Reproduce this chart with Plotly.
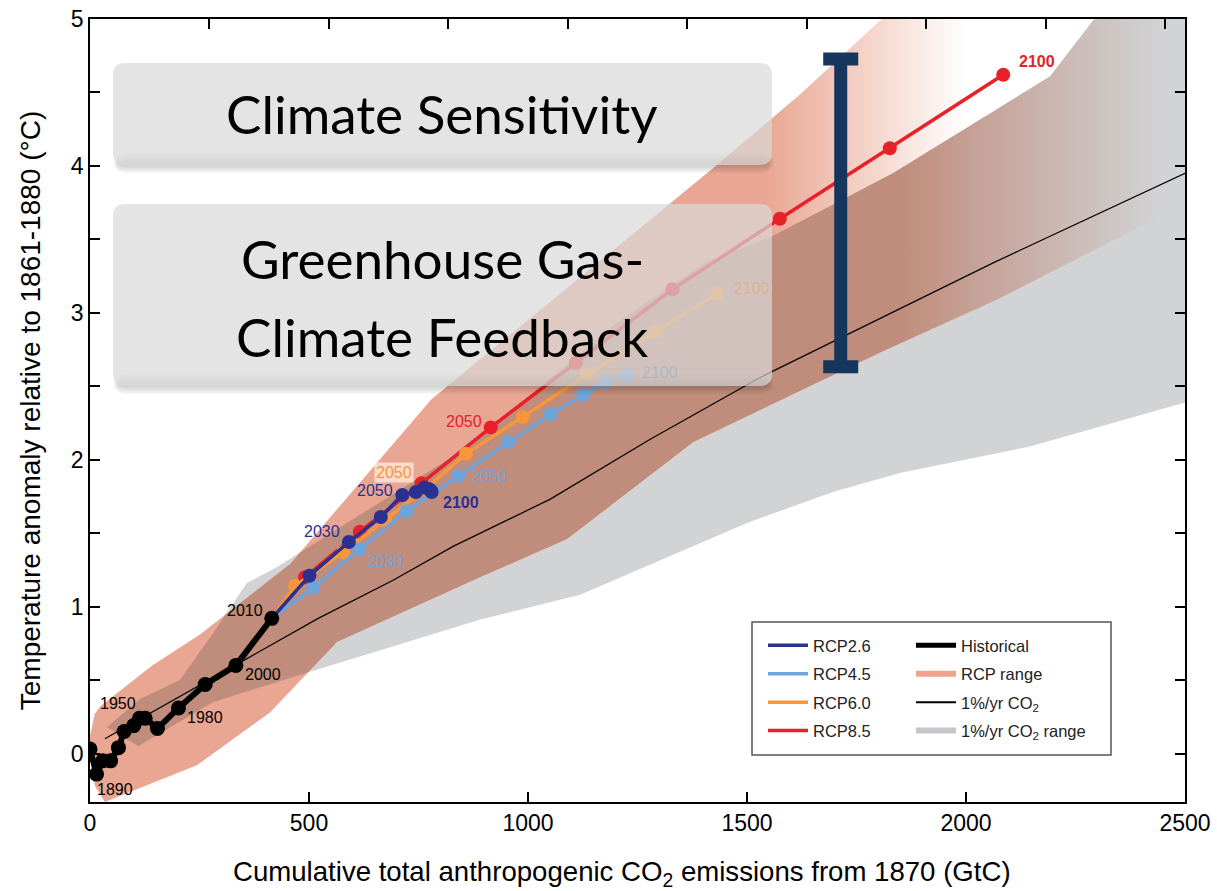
import numpy as np
import plotly.graph_objects as go

# ---------------- data ----------------
# Historical decadal points
hist_x = [0, 15, 29, 47, 65, 78, 100, 113, 126, 154, 202, 263, 333, 415]
hist_y = [0.03, -0.14, -0.05, -0.05, 0.04, 0.15, 0.19, 0.24, 0.24, 0.17, 0.31, 0.47, 0.60, 0.92]

# RCP scenarios, 2010-2100 by decade
rcp_years = [2010, 2020, 2030, 2040, 2050, 2060, 2070, 2080, 2090, 2100]
rcp26_x = [415, 501, 591, 664, 713, 744, 763, 774, 778, 780]
rcp26_y = [0.92, 1.21, 1.44, 1.61, 1.76, 1.78, 1.81, 1.80, 1.79, 1.78]
rcp45_x = [415, 510, 615, 723, 841, 955, 1052, 1126, 1177, 1225]
rcp45_y = [0.92, 1.13, 1.39, 1.65, 1.89, 2.12, 2.31, 2.44, 2.53, 2.57]
rcp60_x = [415, 468, 578, 674, 765, 858, 988, 1134, 1290, 1432]
rcp60_y = [0.92, 1.14, 1.37, 1.59, 1.80, 2.04, 2.29, 2.58, 2.87, 3.13]
rcp85_x = [415, 491, 616, 757, 915, 1109, 1330, 1575, 1826, 2085]
rcp85_y = [0.92, 1.20, 1.51, 1.84, 2.22, 2.66, 3.16, 3.64, 4.12, 4.62]

# 1%/yr CO2 multi-model mean
pct_x = [34, 521, 692, 829, 1050, 1279, 1530, 2062, 2500]
pct_y = [0.10, 0.92, 1.18, 1.41, 1.73, 2.14, 2.56, 3.34, 3.95]

# RCP range (upper / lower envelope)
rcp_up_x = [0, 11, 23, 142, 251, 457, 779, 1425, 1626, 1804, 2078, 2500]
rcp_up_y = [0.12, 0.27, 0.32, 0.60, 0.81, 1.29, 2.41, 3.99, 4.50, 4.99, 5.67, 6.49]
rcp_lo_x = [0, 11, 34, 244, 411, 564, 890, 1089, 1377, 1804, 2071, 2413, 2500]
rcp_lo_y = [-0.02, -0.22, -0.33, -0.08, 0.28, 0.76, 1.20, 1.46, 2.12, 2.73, 3.09, 3.61, 3.77]

# 1%/yr CO2 range (upper / lower envelope)
pct_up_x = [39, 114, 205, 281, 358, 427, 822, 1005, 1210, 1409, 1557, 1833, 2078, 2192, 2290, 2500]
pct_up_y = [0.18, 0.37, 0.50, 0.82, 1.16, 1.27, 2.01, 2.44, 2.95, 3.35, 3.52, 3.95, 4.40, 4.61, 4.99, 5.54]
pct_lo_x = [39, 110, 281, 495, 890, 1119, 1500, 1696, 1849, 2146, 2500]
pct_lo_y = [0.18, 0.05, 0.35, 0.55, 0.91, 1.08, 1.57, 1.78, 1.91, 2.09, 2.39]

# Climate sensitivity spread bar
ecs_x = 1714
ecs_low, ecs_high = 2.633, 4.727

# Upper axis: GtCO2 tick marks, expressed in GtC
gtco2_ticks = [1000, 2000, 3000, 4000, 5000, 6000, 7000, 8000, 9000]
GTC_PER_GTCO2 = 12.0 / 44.0

x_ticks = [0, 500, 1000, 1500, 2000, 2500]
y_ticks = [0, 0.5, 1, 1.5, 2, 2.5, 3, 3.5, 4, 4.5, 5]
y_ticktext = ["0", "", "1", "", "2", "", "3", "", "4", "", "5"]

# ---------------- styling ----------------
C26, C45, C60, C85 = "#2b3190", "#6fa3dc", "#f7963b", "#e8202a"
SALMON = "rgb(233,166,146)"
BROWN = "rgb(192,140,124)"
GREY = "#d1d3d5"
NAVY = "#17365d"
SANS = "Liberation Sans, Arial, sans-serif"

W, H = 1217, 891
ML, MR, MT, MB = 90, 32, 19, 89
PW, PH = W - ML - MR, H - MT - MB


def pxx(p):
    return (p - ML) / PW


def pxy(p):
    return (H - MB - p) / PH


def band(ux, uy, lx, ly):
    return list(ux) + list(lx)[::-1], list(uy) + list(ly)[::-1]


fig = go.Figure()

# grey 1%/yr range
gx, gy = band(pct_up_x, pct_up_y, pct_lo_x, pct_lo_y)
fig.add_trace(go.Scatter(x=gx, y=gy, fill="toself", fillcolor=GREY, mode="none",
                         hoverinfo="skip", showlegend=False))

# salmon RCP range, fading out towards high emissions
sx, sy = band(rcp_up_x, rcp_up_y, rcp_lo_x, rcp_lo_y)
fig.add_trace(go.Scatter(
    x=sx, y=sy, fill="toself", mode="none", hoverinfo="skip", showlegend=False,
    fillgradient=dict(type="horizontal", start=0, stop=2000,
                      colorscale=[[0, SALMON], [0.77, SALMON], [1, "rgba(233,166,146,0)"]])))

# overlap of both ranges (darker tone)
lo = max(rcp_up_x[0], pct_up_x[0])
hi = min(rcp_up_x[-1], pct_up_x[-1])
grid = np.union1d(np.linspace(lo, hi, 900),
                  [v for v in rcp_up_x + rcp_lo_x + pct_up_x + pct_lo_x if lo <= v <= hi])
ov_up = np.minimum(np.interp(grid, rcp_up_x, rcp_up_y), np.interp(grid, pct_up_x, pct_up_y))
ov_lo = np.maximum(np.interp(grid, rcp_lo_x, rcp_lo_y), np.interp(grid, pct_lo_x, pct_lo_y))
ov_up = np.where(ov_up > ov_lo, ov_up, ov_lo)
ox, oy = band(grid, ov_up, grid, ov_lo)
fig.add_trace(go.Scatter(
    x=ox, y=oy, fill="toself", mode="none", hoverinfo="skip", showlegend=False,
    fillgradient=dict(type="horizontal", start=0, stop=2450,
                      colorscale=[[0, BROWN], [0.75, BROWN], [1, "rgba(192,140,124,0)"]])))

# 1%/yr CO2 mean
fig.add_trace(go.Scatter(x=pct_x, y=pct_y, mode="lines", line=dict(color="black", width=1.2),
                         hoverinfo="skip", showlegend=False))

# scenarios
for xs, ys, col in [(rcp85_x, rcp85_y, C85), (rcp60_x, rcp60_y, C60),
                    (rcp45_x, rcp45_y, C45), (rcp26_x, rcp26_y, C26)]:
    fig.add_trace(go.Scatter(x=xs[1:], y=ys[1:], mode="markers", marker=dict(color=col, size=14),
                             hoverinfo="skip", showlegend=False))
    fig.add_trace(go.Scatter(x=xs, y=ys, mode="lines", line=dict(color=col, width=3.5),
                             hoverinfo="skip", showlegend=False))

# historical
fig.add_trace(go.Scatter(x=hist_x, y=hist_y, mode="lines+markers",
                         line=dict(color="black", width=6), marker=dict(color="black", size=15),
                         hoverinfo="skip", showlegend=False))

# climate sensitivity bar
fig.add_trace(go.Scatter(
    x=[ecs_x], y=[(ecs_low + ecs_high) / 2], mode="markers", marker=dict(opacity=0),
    error_y=dict(type="data", array=[(ecs_high - ecs_low) / 2], color=NAVY, thickness=13, width=17.5),
    hoverinfo="skip", showlegend=False))

# carrier for the upper GtCO2 axis
fig.add_trace(go.Scatter(x=[None], y=[None], xaxis="x2", showlegend=False, hoverinfo="skip"))

# legend entries
legend_left = [("RCP2.6", C26), ("RCP4.5", C45), ("RCP6.0", C60), ("RCP8.5", C85)]
for i, (nm, col) in enumerate(legend_left):
    fig.add_trace(go.Scatter(x=[None], y=[None], mode="lines", line=dict(color=col, width=3.5),
                             name=nm, legend="legend", legendgroup=f"l{i}"))
fig.add_trace(go.Scatter(x=[None], y=[None], mode="lines", line=dict(color="black", width=5),
                         name="Historical", legend="legend2", legendgroup="r0"))
fig.add_trace(go.Scatter(x=[None], y=[None], mode="none", fill="toself", fillcolor="#efa38b",
                         name="RCP range", legend="legend2", legendgroup="r1"))
fig.add_trace(go.Scatter(x=[None], y=[None], mode="lines", line=dict(color="black", width=2),
                         name="1%/yr CO<sub>2</sub>", legend="legend2", legendgroup="r2"))
fig.add_trace(go.Scatter(x=[None], y=[None], mode="none", fill="toself", fillcolor="#c5c7ca",
                         name="1%/yr CO<sub>2</sub> range", legend="legend2", legendgroup="r3"))

# ---------------- year labels ----------------
ann = []


def year_label(xs, ys, years, year, text, color, dx, dy, bold=False, opacity=1.0, bg=None):
    i = years.index(year)
    t = f"<b>{text}</b>" if bold else text
    a = dict(x=xs[i], y=ys[i], xref="x", yref="y", text=t, showarrow=False,
             xshift=dx, yshift=dy, opacity=opacity,
             font=dict(family=SANS, size=16, color=color))
    if bg:
        a.update(bgcolor=bg, borderpad=1)
    ann.append(a)


hist_years = [1870, 1890, 1900, 1910, 1920, 1925, 1930, 1950, 1955, 1960, 1980, 1990, 2000, 2010]
for yr, dx, dy in [(1890, 18, -15), (1950, -21, 15), (1980, 27, -10), (2000, 27, -9), (2010, -27, 8)]:
    year_label(hist_x, hist_y, hist_years, yr, str(yr), "black", dx, dy)

year_label(rcp26_x, rcp26_y, rcp_years, 2030, "2030", C26, -27, 10)
year_label(rcp26_x, rcp26_y, rcp_years, 2050, "2050", C26, -27, 4)
year_label(rcp26_x, rcp26_y, rcp_years, 2100, "2100", C26, 29, -10, bold=True)
year_label(rcp45_x, rcp45_y, rcp_years, 2030, "2030", C45, 26, -12)
year_label(rcp45_x, rcp45_y, rcp_years, 2050, "2050", C45, 31, -1)
year_label(rcp45_x, rcp45_y, rcp_years, 2100, "2100", C45, 33, 3, opacity=0.35)
year_label(rcp60_x, rcp60_y, rcp_years, 2050, "2050", C60, -31, 17, bg="rgba(255,236,226,0.75)")
year_label(rcp60_x, rcp60_y, rcp_years, 2100, "2100", C60, 35, 5, opacity=0.35)
year_label(rcp85_x, rcp85_y, rcp_years, 2050, "2050", C85, -27, 6)
year_label(rcp85_x, rcp85_y, rcp_years, 2100, "2100", C85, 34, 13, bold=True)

# ---------------- overlay boxes ----------------
shapes = []


def rrect_path(x0, y0, x1, y1, r):
    pts = [("M", x0 + r, y0), ("L", x1 - r, y0), ("Q", x1, y0, x1, y0 + r), ("L", x1, y1 - r),
           ("Q", x1, y1, x1 - r, y1), ("L", x0 + r, y1), ("Q", x0, y1, x0, y1 - r),
           ("L", x0, y0 + r), ("Q", x0, y0, x0 + r, y0)]
    out = []
    for p in pts:
        cmd, coords = p[0], p[1:]
        s = []
        for k in range(0, len(coords), 2):
            s.append(f"{pxx(coords[k]):.5f},{pxy(coords[k + 1]):.5f}")
        out.append(cmd + " ".join(s))
    return " ".join(out) + " Z"


def text_box(x0, y0, x1, y1):
    for k in range(1, 6):
        shapes.append(dict(type="path", xref="paper", yref="paper", layer="above",
                           path=rrect_path(x0 + 1, y1 - 14 + k * 2, x1 + 1, y1 + k * 1.6, 12),
                           fillcolor="rgba(0,0,0,0.035)", line=dict(width=0)))
    shapes.append(dict(type="path", xref="paper", yref="paper", layer="above",
                       path=rrect_path(x0, y0, x1, y1, 12),
                       fillcolor="rgba(216,216,216,0.70)", line=dict(width=0)))


text_box(113, 63, 772, 165)
text_box(113, 204, 772, 386)

for txt, cy in [("Climate Sensitivity", 113), ("Greenhouse Gas-", 258), ("Climate Feedback", 336)]:
    ann.append(dict(x=pxx(442), y=pxy(cy), xref="paper", yref="paper", text=txt, showarrow=False,
                    xanchor="center", yanchor="middle",
                    font=dict(family="Lato", size=53, color="black")))

# x-axis title, set slightly left of the plot centre
ann.append(dict(x=pxx(622), y=pxy(873), xref="paper", yref="paper", showarrow=False,
                xanchor="center", yanchor="middle",
                text="Cumulative total anthropogenic CO<sub>2</sub> emissions from 1870 (GtC)",
                font=dict(family=SANS, size=27.6, color="black")))

# legend frame
shapes.append(dict(type="rect", xref="paper", yref="paper", layer="above",
                   x0=pxx(752), x1=pxx(1111), y0=pxy(755), y1=pxy(622),
                   fillcolor="white", line=dict(color="#555555", width=1.5)))

TICKFONT = dict(family=SANS, size=23, color="black")

fig.update_layout(
    width=W, height=H,
    margin=dict(l=ML, r=MR, t=MT, b=MB, autoexpand=False),
    plot_bgcolor="white", paper_bgcolor="white",
    shapes=shapes, annotations=ann,
    xaxis=dict(range=[0, 2500], tickvals=x_ticks, ticks="inside", ticklen=10, tickwidth=1.5,
               tickcolor="black", showline=True, linewidth=1.5, linecolor="black", mirror=True,
               showgrid=False, zeroline=False, tickfont=TICKFONT, automargin=False),
    xaxis2=dict(range=[0, 2500], overlaying="x", side="top", showticklabels=False,
                tickvals=[v * GTC_PER_GTCO2 for v in gtco2_ticks], ticks="inside", ticklen=10,
                tickwidth=1.5, tickcolor="black", showgrid=False, zeroline=False, showline=False,
                automargin=False),
    yaxis=dict(range=[-0.33, 5], tickvals=y_ticks, ticktext=y_ticktext, ticks="inside", ticklen=10,
               tickwidth=1.5, tickcolor="black", showline=True, linewidth=1.5, linecolor="black",
               mirror="ticks", showgrid=False, zeroline=False, tickfont=TICKFONT, automargin=False,
               title=dict(text="Temperature anomaly relative to 1861-1880 (°C)",
                          font=dict(family=SANS, size=28, color="black"), standoff=22)),
    legend=dict(x=pxx(763), y=pxy(628), xanchor="left", yanchor="top", bgcolor="rgba(0,0,0,0)",
                borderwidth=0, tracegroupgap=4, traceorder="grouped", itemwidth=40,
                font=dict(family=SANS, size=16.5, color="#222222")),
    legend2=dict(x=pxx(911), y=pxy(628), xanchor="left", yanchor="top", bgcolor="rgba(0,0,0,0)",
                 borderwidth=0, tracegroupgap=4, traceorder="grouped", itemwidth=40,
                 font=dict(family=SANS, size=16.5, color="#222222")),
)

fig.write_html("out.html")
